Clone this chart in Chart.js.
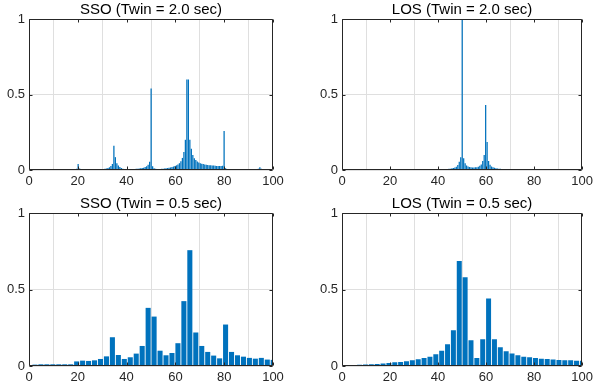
<!DOCTYPE html>
<html>
<head>
<meta charset="utf-8">
<script src="https://cdn.jsdelivr.net/npm/chart.js@4.4.1/dist/chart.umd.min.js"></script>
<style>
html,body{margin:0;padding:0;background:#fff;}
#wrap{position:relative;width:597px;height:392px;overflow:hidden;}
canvas{position:absolute;}
</style>
</head>
<body>
<div id="wrap">
<canvas id="c1" width="298" height="195" style="left:0;top:0"></canvas>
<canvas id="c2" width="299" height="195" style="left:298px;top:0"></canvas>
<canvas id="c3" width="298" height="197" style="left:0;top:195px"></canvas>
<canvas id="c4" width="299" height="197" style="left:298px;top:195px"></canvas>
</div>
<script>
// ---- data ----
const titles = ['SSO (Twin = 2.0 sec)', 'LOS (Twin = 2.0 sec)', 'SSO (Twin = 0.5 sec)', 'LOS (Twin = 0.5 sec)'];
const xTickValues = [0, 20, 40, 60, 80, 100];
const yTickValues = [0, 0.5, 1];
const yTickLabels = ['0', '0.5', '1'];
// frequency bin spacing (Hz) of each window; bar k sits at k * spacing
const binHz20 = 0.6104;
const binHz05 = 2.4414;

const sso20 = [
  0.002,0.002,0.002,0.002,0.002,0.003,0.004,0.004,0.003,0.002,
  0.002,0.002,0.002,0.002,0.002,0.002,0.002,0.002,0.002,0.002,
  0.002,0.002,0.002,0.002,0.002,0.002,0.002,0.003,0.003,0.003,
  0.004,0.008,0.040,0.010,0.004,0.003,0.003,0.003,0.003,0.003,
  0.003,0.003,0.003,0.003,0.003,0.004,0.004,0.005,0.005,0.006,
  0.008,0.010,0.013,0.018,0.026,0.040,0.160,0.085,0.044,0.030,
  0.020,0.013,0.009,0.007,0.006,0.005,0.005,0.006,0.006,0.007,
  0.007,0.008,0.009,0.010,0.011,0.013,0.015,0.020,0.025,0.035,
  0.055,0.540,0.025,0.012,0.008,0.006,0.006,0.007,0.008,0.009,
  0.010,0.011,0.013,0.015,0.017,0.020,0.023,0.027,0.031,0.036,
  0.045,0.058,0.080,0.120,0.200,0.600,0.600,0.200,0.140,0.100,
  0.077,0.066,0.057,0.050,0.045,0.042,0.039,0.037,0.035,0.033,
  0.032,0.031,0.030,0.029,0.028,0.027,0.027,0.026,0.026,0.028,
  0.258,0.012,0.006,0.005,0.005,0.005,0.005,0.005,0.005,0.005,
  0.005,0.005,0.005,0.005,0.005,0.005,0.005,0.005,0.005,0.005,
  0.005,0.005,0.006,0.008,0.018,0.008,0.004,0.004,0.004,0.004,
  0.004,0.004,0.004,0.004
];
const los20 = [
  0.001,0.001,0.001,0.001,0.001,0.001,0.001,0.001,0.001,0.001,
  0.001,0.001,0.001,0.001,0.001,0.001,0.001,0.001,0.001,0.001,
  0.001,0.001,0.001,0.001,0.001,0.001,0.001,0.001,0.001,0.001,
  0.001,0.001,0.001,0.001,0.001,0.001,0.001,0.001,0.001,0.001,
  0.001,0.001,0.001,0.001,0.001,0.002,0.002,0.002,0.002,0.002,
  0.002,0.002,0.002,0.002,0.002,0.002,0.002,0.002,0.002,0.003,
  0.003,0.003,0.003,0.003,0.003,0.003,0.004,0.004,0.005,0.005,
  0.006,0.007,0.008,0.009,0.011,0.013,0.016,0.022,0.033,0.055,
  0.084,0.995,0.077,0.044,0.030,0.024,0.020,0.018,0.017,0.017,
  0.018,0.019,0.021,0.028,0.037,0.060,0.100,0.430,0.185,0.060,
  0.035,0.024,0.018,0.015,0.012,0.010,0.009,0.008,0.007,0.006,
  0.006,0.005,0.005,0.005,0.004,0.004,0.004,0.004,0.004,0.004,
  0.003,0.003,0.003,0.003,0.003,0.003,0.003,0.003,0.003,0.003,
  0.003,0.003,0.003,0.003,0.003,0.003,0.003,0.003,0.003,0.003,
  0.002,0.002,0.002,0.002,0.002,0.002,0.002,0.002,0.002,0.002,
  0.002,0.002,0.002,0.002,0.002,0.002,0.002,0.002,0.002,0.002,
  0.002,0.002,0.002,0.002
];
const sso05 = [
  0.009,0.011,0.011,0.011,0.011,0.011,0.011,0.030,0.035,0.033,
  0.037,0.046,0.063,0.188,0.072,0.046,0.057,0.081,0.131,0.380,
  0.323,0.100,0.070,0.085,0.149,0.424,0.757,0.219,0.131,0.092,
  0.068,0.050,0.271,0.092,0.070,0.061,0.053,0.048,0.053,0.042,
  0.040
];
const los05 = [
  0.003,0.005,0.008,0.009,0.011,0.013,0.017,0.020,0.024,0.026,
  0.031,0.037,0.044,0.052,0.061,0.076,0.100,0.142,0.234,0.687,
  0.580,0.168,0.052,0.175,0.441,0.175,0.122,0.096,0.081,0.070,
  0.061,0.057,0.052,0.048,0.046,0.042,0.039,0.037,0.037,0.035,
  0.034
];

// ---- styling ----
const FONT = "'Liberation Sans', Arial, Helvetica, sans-serif";
const BAR = '#0072BD';
const AXIS = '#262626';
const GRID = '#dfdfdf';

const framePlugin = {
  id: 'frame',
  afterDatasetsDraw(chart, args, opts) {
    const { ctx, chartArea: a, scales } = chart;
    const L = Math.round(a.left) + 0.5, R = Math.round(a.right) - 0.5;
    const T = Math.round(a.top) + 0.5, B = Math.round(a.bottom) - 0.5;
    ctx.save();
    ctx.strokeStyle = AXIS;
    ctx.lineWidth = 1;
    ctx.beginPath();
    ctx.rect(L, T, R - L, B - T);
    const tl = 3;
    xTickValues.forEach(v => {
      const px = Math.round(scales.x.getPixelForValue(v)) + 0.5;
      ctx.moveTo(px, B); ctx.lineTo(px, B - tl);
      ctx.moveTo(px, T); ctx.lineTo(px, T + tl);
    });
    yTickValues.forEach(v => {
      const py = Math.round(scales.y.getPixelForValue(v)) + 0.5;
      ctx.moveTo(L, py); ctx.lineTo(L + tl, py);
      ctx.moveTo(R, py); ctx.lineTo(R - tl, py);
    });
    ctx.stroke();
    ctx.fillStyle = '#000';
    ctx.font = '15px ' + FONT;
    ctx.textAlign = 'center';
    ctx.textBaseline = 'alphabetic';
    ctx.fillText(opts.text, (a.left + a.right) / 2, a.top - 5.5);
    ctx.restore();
  }
};

function makeChart(id, binHz, vals, title, yW, padR, padT, xH) {
  const points = vals.map((v, i) => ({ x: (i + 1) * binHz, y: v }));
  return new Chart(document.getElementById(id), {
    type: 'bar',
    data: { datasets: [{ data: points, backgroundColor: BAR, borderWidth: 0, barPercentage: 0.85, categoryPercentage: 1.0 }] },
    options: {
      responsive: false, animation: false, devicePixelRatio: 1,
      layout: { padding: { left: 0, right: padR, top: padT, bottom: 0 } },
      plugins: { legend: { display: false }, tooltip: { enabled: false }, frame: { text: title } },
      scales: {
        x: {
          type: 'linear', min: 0, max: 100, offset: false,
          afterBuildTicks: s => { s.ticks = xTickValues.map(v => ({ value: v })); },
          ticks: { color: AXIS, font: { family: FONT, size: 13 }, padding: 4, maxRotation: 0, autoSkip: false,
                   callback: v => String(v) },
          grid: { color: GRID, drawTicks: false, lineWidth: 1 },
          border: { display: false },
          afterFit: s => { s.height = xH; }
        },
        y: {
          min: 0, max: 1,
          afterBuildTicks: s => { s.ticks = yTickValues.map(v => ({ value: v })); },
          ticks: { color: AXIS, font: { family: FONT, size: 13 }, padding: 4,
                   callback: (v, i) => yTickLabels[i] },
          grid: { color: GRID, drawTicks: false, lineWidth: 1 },
          border: { display: false },
          afterFit: s => { s.width = yW; }
        }
      }
    },
    plugins: [framePlugin]
  });
}

makeChart('c1', binHz20, sso20, titles[0], 29, 25, 19, 25);
makeChart('c2', binHz20, los20, titles[1], 44, 12, 19, 25);
makeChart('c3', binHz05, sso05, titles[2], 29, 25, 18, 26);
makeChart('c4', binHz05, los05, titles[3], 44, 12, 18, 26);
</script>
</body>
</html>
